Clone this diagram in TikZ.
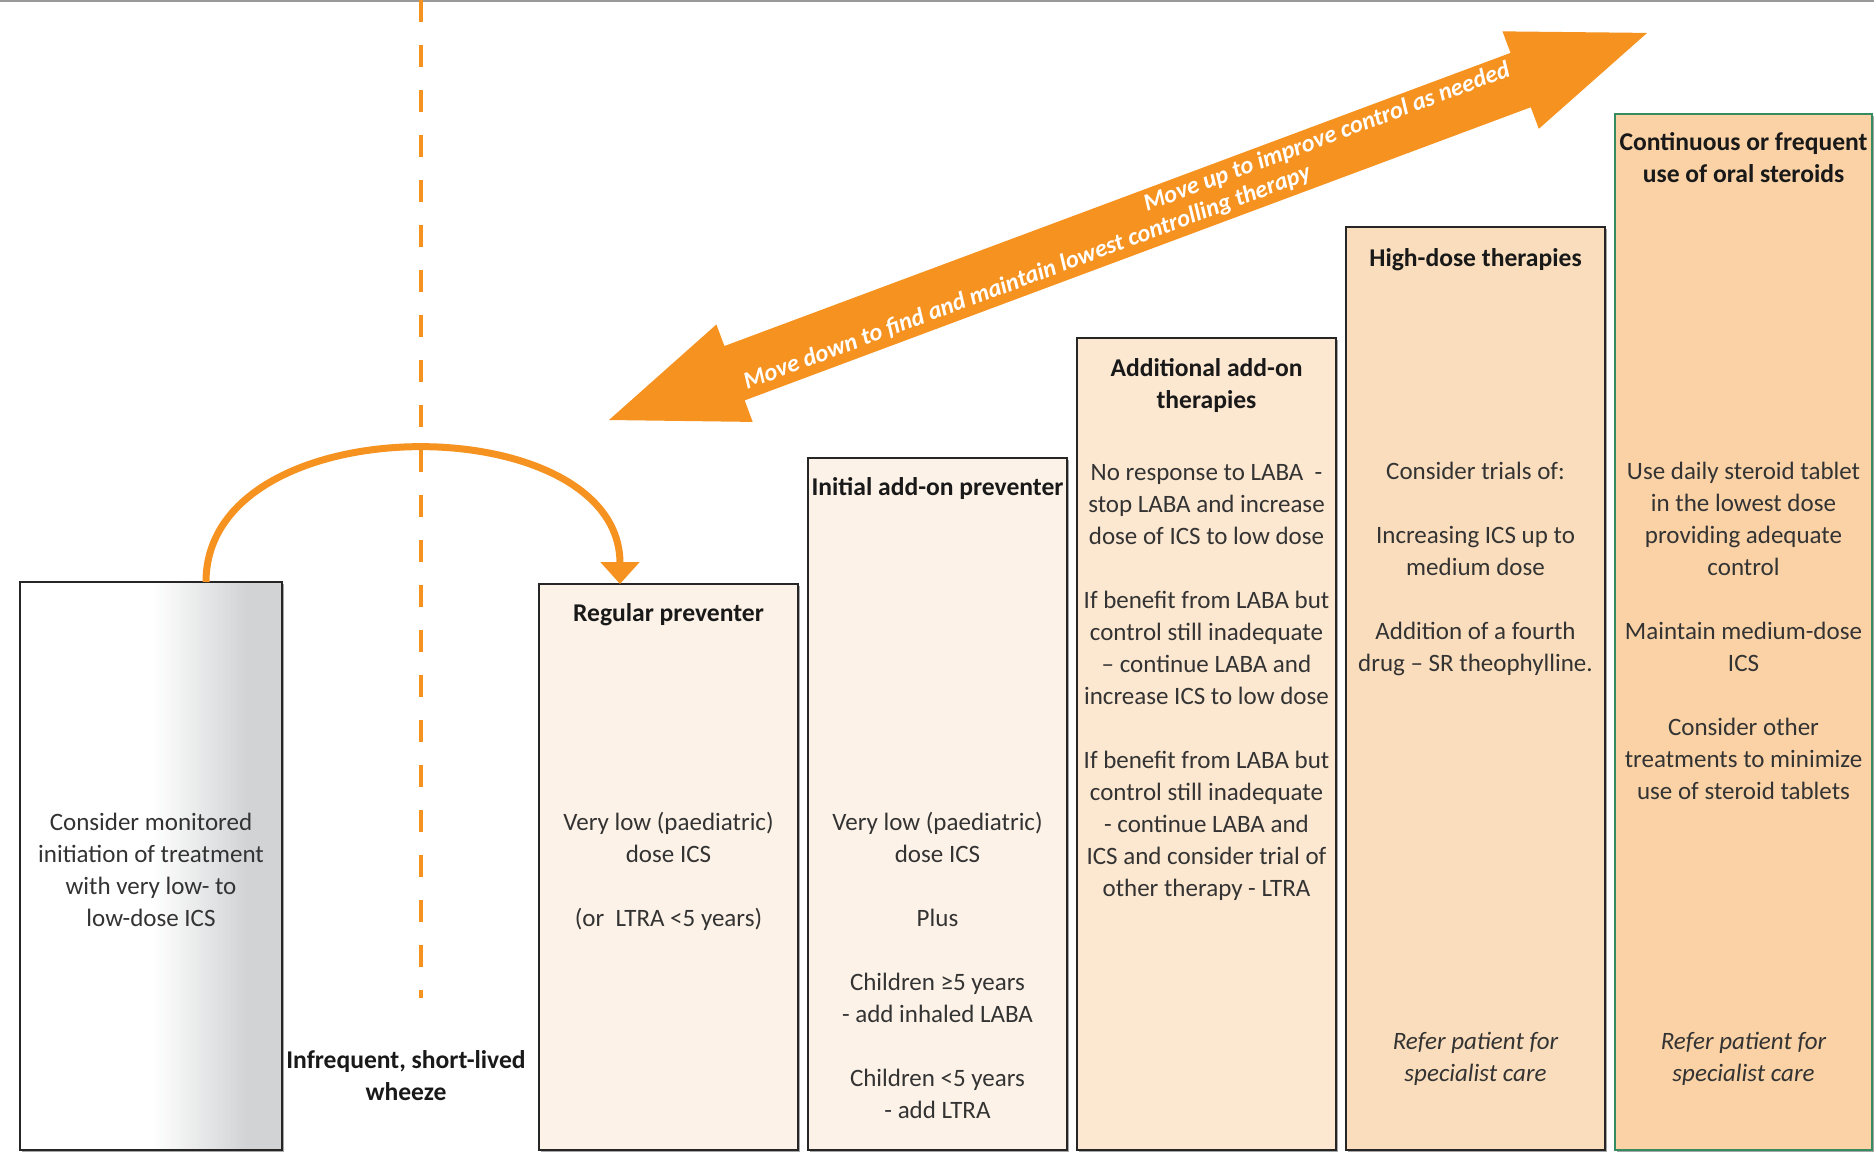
\documentclass[tikz,border=0pt]{standalone}
\usepackage{fontspec}
\setmainfont{Carlito}
\usetikzlibrary{arrows.meta}
\usetikzlibrary{positioning,calc,shadows}
\definecolor{stairorange}{RGB}{245,146,32}
\definecolor{lightpeach}{RGB}{253,242,231}
\definecolor{midpeach}{RGB}{252,231,208}
\definecolor{darkpeach}{RGB}{250,221,188}
\definecolor{oralpeach}{RGB}{250,210,166}
\definecolor{oralgreen}{RGB}{52,140,96}
\definecolor{shadegrey}{RGB}{209,211,212}

\begin{document}
\begin{tikzpicture}[%
        x=0.5pt, y=-0.5pt,
        every node/.style={inner sep=0pt, outer sep=0pt, align=center},
        stepbox/.style={draw=black!85, line width=0.9pt, minimum width=129.5pt,
          general shadow={fill=black!35, shadow xshift=1.2pt, shadow yshift=-0.8pt}},
        boxhead/.style={text=black!90, font=\bfseries\fontsize{12.8}{16}\selectfont},
        boxtext/.style={anchor=mid, text=black!80, font=\fontsize{12.5}{16}\selectfont},
        refertext/.style={boxtext, font=\itshape\fontsize{12.5}{16}\selectfont},
        arrowtext/.style={transform shape, text=white, font=\bfseries\itshape\fontsize{12.2}{14}\selectfont},
        dashline/.style={draw=stairorange, line width=2.2pt, dash pattern=on 11pt off 11.5pt},
        loopline/.style={draw=stairorange, line width=3.5pt},
        >={Triangle[width=19pt,length=11pt]}
      ]
      \useasboundingbox (0,0) rectangle (1874,1153);
      \draw [black!40, line width=0.8pt] (0,1) -- (1874,1);

      \coordinate (dashtop) at (421,0);
      \coordinate (dashend) at (421,998);
      \draw [dashline] (dashtop) -- (dashend);

      \begin{scope}[shift={(609,420)}, rotate=20.45]
        \fill [stairorange] (0,0) -- (134,-52) -- (134,-29) -- (973,-29) -- (973,-52)
          -- (1108,0) -- (973,52) -- (973,29) -- (134,29) -- (134,52) -- cycle;
        \node (moveup) [arrowtext, anchor=mid east] at (966,-12) {Move up to improve control as needed};
        \node (movedown) [arrowtext, anchor=mid west] at (140,15) {Move down to find and maintain lowest controlling therapy};
      \end{scope}

      \node (monitored) [stepbox, anchor=south west, minimum width=131pt, minimum height=284pt, fill=white,
        path picture={
          \foreach \i [evaluate=\i as \pct using int(100*\i/30),
                       evaluate=\i as \fa using 0.5+0.012*\i,
                       evaluate=\i as \fb using 0.514+0.012*\i] in {0,...,30}
            \fill [shadegrey!\pct!white]
              ($(path picture bounding box.south west)!\fa!(path picture bounding box.south east)$) rectangle
              ($(path picture bounding box.north west)!\fb!(path picture bounding box.north east)$);
          \fill [shadegrey]
            ($(path picture bounding box.south west)!0.86!(path picture bounding box.south east)$) rectangle
            (path picture bounding box.north east);
        }] at (20,1150) {};
      \node (regular) [stepbox, anchor=south west, minimum height=283pt, fill=lightpeach] at (539,1150) {};
      \node (initial) [stepbox, minimum height=346pt, fill=lightpeach, right=5pt of regular.south east, anchor=south west] {};
      \node (additional) [stepbox, minimum height=406pt, fill=midpeach, right=5pt of initial.south east, anchor=south west] {};
      \node (highdose) [stepbox, minimum height=461.5pt, fill=darkpeach, right=5pt of additional.south east, anchor=south west] {};
      \node (oral) [stepbox, minimum width=128.5pt, minimum height=518pt, fill=oralpeach, draw=oralgreen, line width=0.8pt,
        right=5pt of highdose.south east, anchor=south west] {};

      \node (regularhead) [boxhead, below=16.5pt of regular.north, anchor=mid] {Regular preventer};
      \node (initialhead) [boxhead, below=16.5pt of initial.north, anchor=mid] {Initial add-on preventer};
      \node (additionalhead) [boxhead, below=33pt of additional.north, anchor=mid] {Additional add-on\\therapies};
      \node (highdosehead) [boxhead, below=17.5pt of highdose.north, anchor=mid] {High-dose therapies};
      \node (oralhead) [boxhead, below=32pt of oral.north, anchor=mid] {Continuous or frequent\\use of oral steroids};

      \node (monitoredtext) [boxtext] at (monitored.north |- 0,922) {Consider monitored\\initiation of treatment\\with very low- to\\low-dose ICS};
      \node (regulartext) [boxtext] at (regular.north |- 0,922) {Very low (paediatric)\\dose ICS\\[16pt](or\ \ LTRA <5 years)};
      \node (initialtext) [boxtext] at (initial.north |- 0,1114) {Very low (paediatric)\\dose ICS\\[16pt]Plus\\[16pt]Children ≥5 years\\- add inhaled LABA\\[16pt]Children <5 years\\- add LTRA};
      \node (additionaltext) [boxtext] at (additional.north |- 0,892) {No response to LABA\ \ -\\stop LABA and increase\\dose of ICS to low dose\\[16pt]If benefit from LABA but\\control still inadequate\\– continue LABA and\\increase ICS to low dose\\[16pt]If benefit from LABA but\\control still inadequate\\- continue LABA and\\ICS and consider trial of\\other therapy - LTRA};
      \node (highdosetext) [boxtext] at (highdose.north |- 0,667) {Consider trials of:\\[16pt]Increasing ICS up to\\medium dose\\[16pt]Addition of a fourth\\drug – SR theophylline.};
      \node (oraltext) [boxtext] at (oral.north |- 0,795) {Use daily steroid tablet\\in the lowest dose\\providing adequate\\control\\[16pt]Maintain medium-dose\\ICS\\[16pt]Consider other\\treatments to minimize\\use of steroid tablets};
      \node (highdoserefer) [refertext] at (highdose.north |- 0,1077) {Refer patient for\\specialist care};
      \node (oralrefer) [refertext] at (oral.north |- 0,1077) {Refer patient for\\specialist care};

      \node (wheeze) [boxhead, anchor=mid] at (406,1096) {Infrequent, short-lived\\wheeze};

      \draw [loopline, ->] ([xshift=27.5pt]monitored.north) to[out=90, in=90, looseness=1.1] ([xshift=-24.25pt]regular.north);
    \end{tikzpicture}
\end{document}
